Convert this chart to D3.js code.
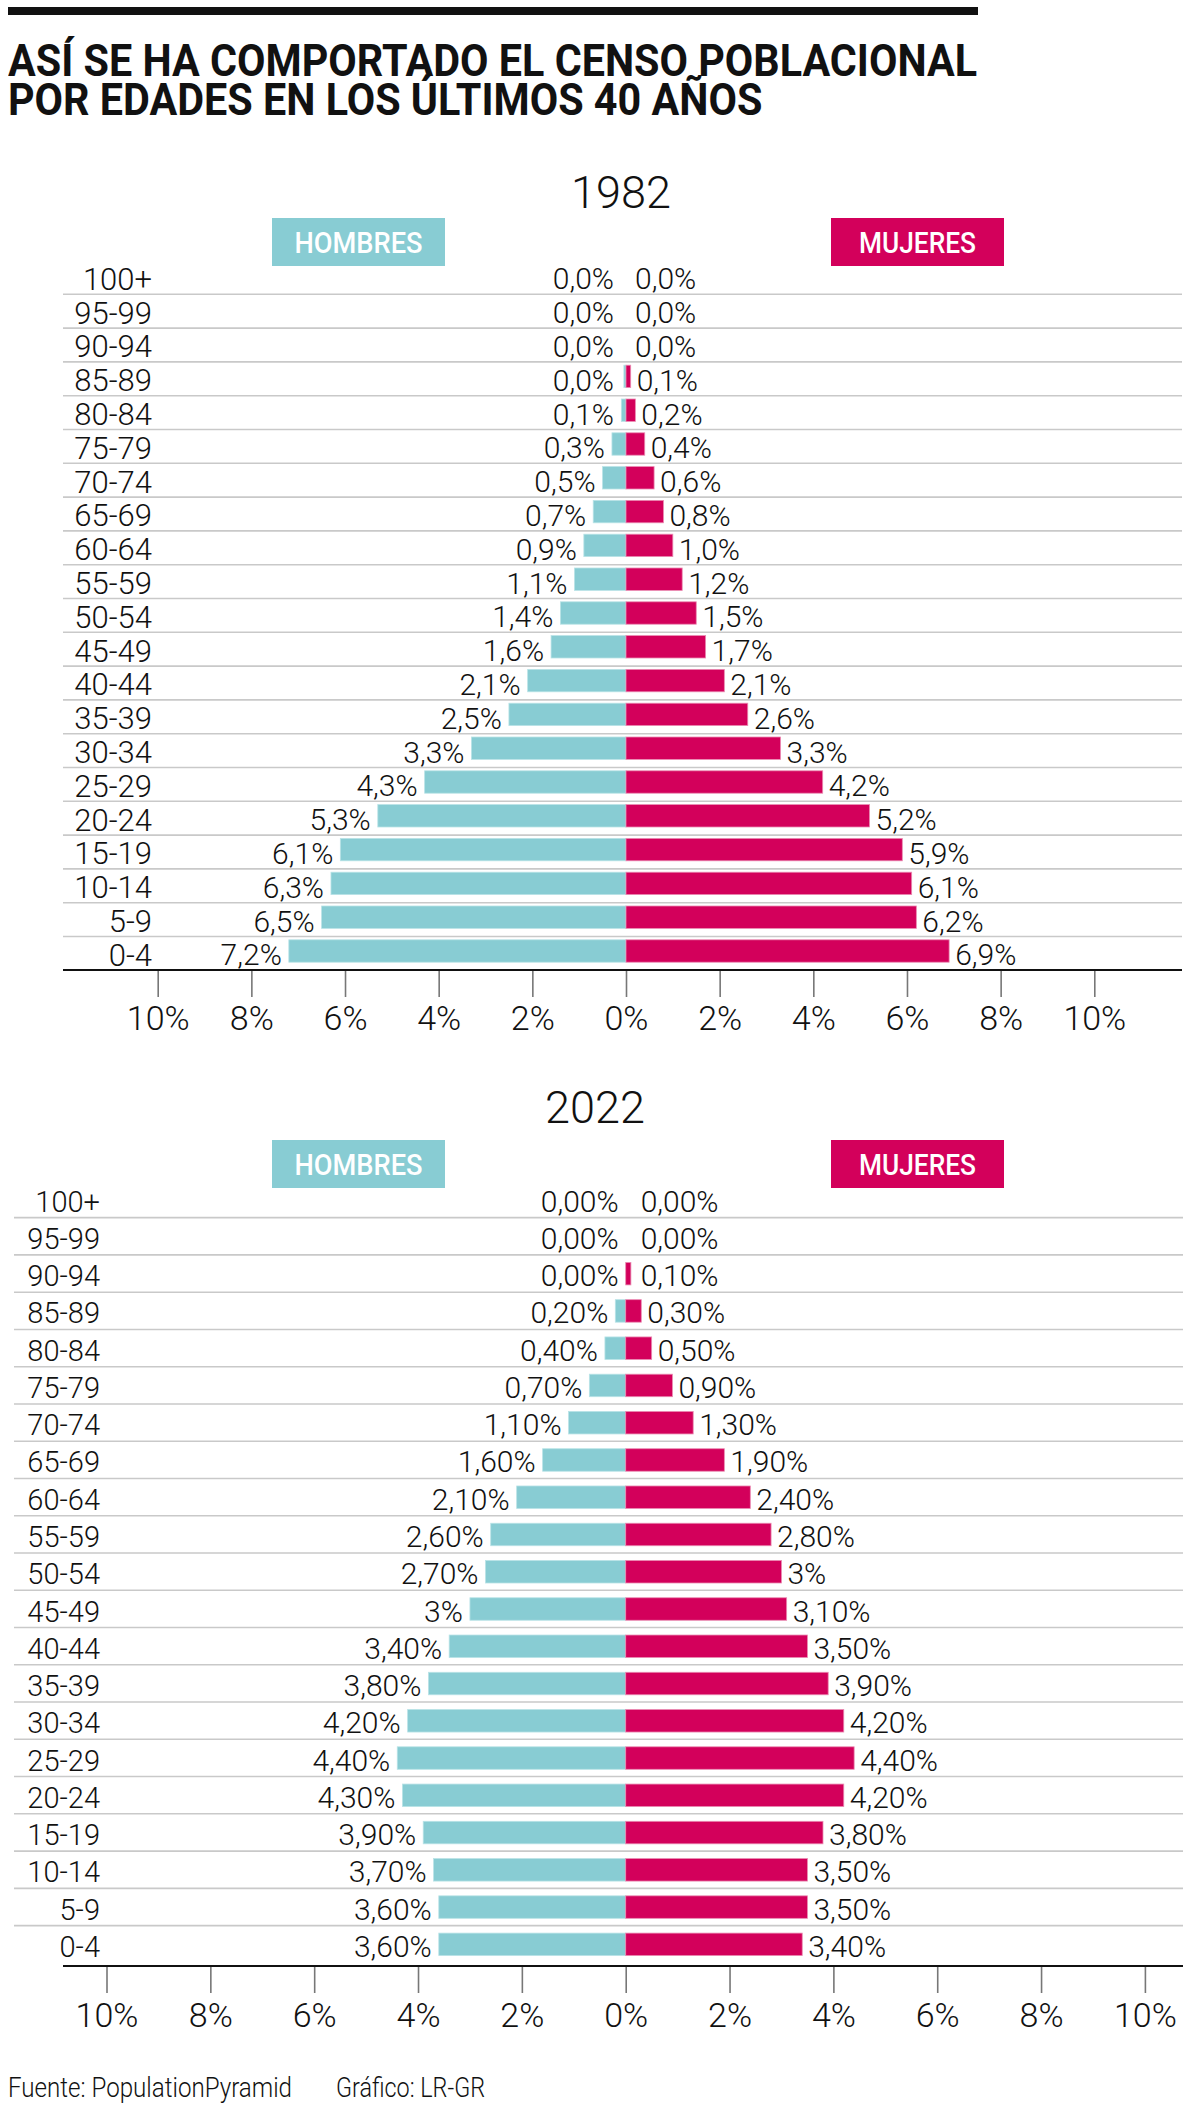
<!DOCTYPE html>
<html>
<head>
<meta charset="utf-8">
<script src="https://cdn.jsdelivr.net/npm/d3@7"></script>
<style>
  html, body { margin: 0; padding: 0; background: #fff; }
  body { position: relative; width: 1200px; height: 2107px; overflow: hidden; }
  svg { display: block; position: absolute; left: 0; top: 0; }
  text { font-family: Roboto, "Open Sans", sans-serif; }
  #title { position: absolute; left: 8px; top: 0; font-family: Roboto, sans-serif; font-weight: 700;
           font-size: 44px; line-height: 39px; color: #111; transform-origin: 0 0; white-space: normal; }
</style>
</head>
<body>
<svg id="chart" width="1200" height="2107"></svg>
<div id="title"></div>
<script>
// ---------- DATA ----------
const ageGroups = ["100+","95-99","90-94","85-89","80-84","75-79","70-74","65-69","60-64","55-59","50-54","45-49","40-44","35-39","30-34","25-29","20-24","15-19","10-14","5-9","0-4"];

const men1982   = [0.0,0.0,0.0,0.045,0.1,0.3,0.5,0.7,0.9,1.1,1.4,1.6,2.1,2.5,3.3,4.3,5.3,6.1,6.3,6.5,7.2];
const women1982 = [0.0,0.0,0.0,0.1,0.2,0.4,0.6,0.8,1.0,1.2,1.5,1.7,2.1,2.6,3.3,4.2,5.2,5.9,6.1,6.2,6.9];

const men2022   = [0,0,0,0.2,0.4,0.7,1.1,1.6,2.1,2.6,2.7,3,3.4,3.8,4.2,4.4,4.3,3.9,3.7,3.6,3.6];
const women2022 = [0,0,0.1,0.3,0.5,0.9,1.3,1.9,2.4,2.8,3,3.1,3.5,3.9,4.2,4.4,4.2,3.8,3.5,3.5,3.4];

const tickValues = [-10,-8,-6,-4,-2,0,2,4,6,8,10];
const legendLabels = ["HOMBRES","MUJERES"];
const titleLines = ["ASÍ SE HA COMPORTADO EL CENSO POBLACIONAL","POR EDADES EN LOS ÚLTIMOS 40 AÑOS"];
const footer = ["Fuente: PopulationPyramid","Gráfico: LR-GR"];

// ---------- STYLE ----------
const CYAN = "#88ccd3", MAGENTA = "#d3005b";
const CYAN_STROKE = "#b9e3e7", MAG_STROKE = "#ea8bb2";

const fmt1982 = v => d3.format(".1f")(v).replace(".", ",") + "%";
const fmt2022 = v => (Number.isInteger(v) && v > 0 ? String(v) : d3.format(".2f")(v).replace(".", ",")) + "%";

const svg = d3.select("#chart");

// top rule
svg.append("rect").attr("x", 8).attr("y", 7).attr("width", 970).attr("height", 8).attr("fill", "#111");

// title: a single wrapped text block, compressed horizontally to the condensed width
(function () {
  const ctx = document.createElement("canvas").getContext("2d");
  ctx.font = "700 44px Roboto, sans-serif";
  const w1 = ctx.measureText(titleLines[0]).width;
  const s = 969 / w1;
  d3.select("#title")
    .style("width", (w1 + 6) + "px")
    .style("top", "41.5px")
    .style("transform", `scale(${s},1)`)
    .text(titleLines.join(" "));
})();

function pyramid(cfg) {
  const g = svg.append("g");
  const x = d3.scaleLinear().domain([-10, 10]).range([cfg.x10l, cfg.x10r]);
  const y = d3.scaleBand().domain(ageGroups).range([cfg.top, cfg.top + cfg.band * ageGroups.length]);
  const rows = ageGroups.map((a, i) => ({age: a, m: cfg.men[i], w: cfg.women[i]}));

  // year
  g.append("text").attr("x", cfg.yearX).attr("y", cfg.yearY).attr("text-anchor", "middle")
    .attr("font-size", 45).attr("font-weight", 300).attr("fill", "#111").text(cfg.year);

  // legend boxes
  const boxes = [{x: 272, w: 173, c: CYAN, t: legendLabels[0], tl: 128},
                 {x: 831, w: 173, c: MAGENTA, t: legendLabels[1], tl: 117}];
  boxes.forEach(b => {
    g.append("rect").attr("x", b.x).attr("y", cfg.boxY).attr("width", b.w).attr("height", 48).attr("fill", b.c);
    g.append("text").attr("x", b.x + b.w / 2).attr("y", cfg.boxY + 35).attr("text-anchor", "middle")
      .attr("font-size", 30).attr("font-weight", 500).attr("fill", "#fff")
      .attr("textLength", b.tl).attr("lengthAdjust", "spacingAndGlyphs").text(b.t);
  });

  // grid lines (bottom of each band except last)
  g.selectAll("line.grid").data(ageGroups.slice(0, -1)).join("line")
    .attr("x1", cfg.gridX0).attr("x2", cfg.gridX1)
    .attr("y1", d => y(d) + y.bandwidth()).attr("y2", d => y(d) + y.bandwidth())
    .attr("stroke", "#c9c9c9").attr("stroke-width", 1.6);

  // row labels
  g.selectAll("text.age").data(rows).join("text")
    .attr("x", cfg.rowX).attr("y", d => y(d.age) + y.bandwidth() - cfg.rowBase)
    .attr("text-anchor", "end").attr("font-size", cfg.rowFont).attr("font-weight", 300).attr("fill", "#111")
    .text(d => d.age);

  // bars
  const x0 = x(0);
  g.selectAll("rect.m").data(rows).join("rect")
    .attr("x", d => x(-d.m)).attr("width", d => x0 - x(-d.m))
    .attr("y", d => y(d.age) + cfg.barOff).attr("height", cfg.barH)
    .attr("fill", CYAN).attr("stroke", d => d.m > 0 ? CYAN_STROKE : "none").attr("stroke-width", 0.8);
  g.selectAll("rect.w").data(rows).join("rect")
    .attr("x", x0).attr("width", d => x(d.w) - x0)
    .attr("y", d => y(d.age) + cfg.barOff).attr("height", cfg.barH)
    .attr("fill", MAGENTA).attr("stroke", d => d.w > 0 ? MAG_STROKE : "none").attr("stroke-width", 0.8);

  // value labels
  g.selectAll("text.vm").data(rows).join("text")
    .attr("x", d => Math.min(x0 - cfg.minGapM, x(-d.m) - 7))
    .attr("y", d => y(d.age) + y.bandwidth() - cfg.valBase)
    .attr("text-anchor", "end").attr("font-size", 30).attr("font-weight", 300).attr("fill", "#111")
    .text(d => cfg.fmt(d.m));
  g.selectAll("text.vw").data(rows).join("text")
    .attr("x", d => Math.max(x0 + cfg.minGapW, x(d.w) + 6))
    .attr("y", d => y(d.age) + y.bandwidth() - cfg.valBase)
    .attr("text-anchor", "start").attr("font-size", 30).attr("font-weight", 300).attr("fill", "#111")
    .text(d => cfg.fmt(d.w));

  // axis
  const axisY = cfg.axisY;
  const ax = g.append("g").attr("transform", `translate(0,${axisY})`)
    .call(d3.axisBottom(x).tickValues(tickValues).tickFormat(d => Math.abs(d) + "%").tickSize(27));
  ax.select(".domain").remove();
  ax.selectAll(".tick line").attr("stroke", "#777").attr("stroke-width", 1.6);
  ax.selectAll(".tick text").attr("y", cfg.tickLabelY).attr("dy", 0)
    .attr("font-size", 34).attr("font-weight", 300).attr("fill", "#111")
    .attr("font-family", "Roboto, sans-serif");
  g.append("line").attr("x1", 63).attr("x2", cfg.gridX1).attr("y1", axisY).attr("y2", axisY)
    .attr("stroke", "#111").attr("stroke-width", 2);
}

pyramid({
  year: "1982", yearX: 621, yearY: 208, boxY: 218,
  men: men1982, women: women1982, fmt: fmt1982,
  x10l: 157.7, x10r: 1094.3,
  top: 260.5, band: 33.8, barOff: 3.3, barH: 22.4,
  gridX0: 63, gridX1: 1182, rowX: 152, rowFont: 31, rowBase: 4.5, valBase: 5,
  minGapM: 12, minGapW: 9,
  axisY: 970, tickLabelY: 60
});

pyramid({
  year: "2022", yearX: 595, yearY: 1123, boxY: 1140,
  men: men2022, women: women2022, fmt: fmt2022,
  x10l: 106.5, x10r: 1144.9,
  top: 1180.4, band: 37.26, barOff: 7.5, barH: 22.5,
  gridX0: 14, gridX1: 1183, rowX: 100, rowFont: 29, rowBase: 6, valBase: 6,
  minGapM: 5, minGapW: 15,
  axisY: 1966, tickLabelY: 61
});

// footer
svg.append("text").attr("x", 8).attr("y", 2097).attr("font-size", 27).attr("font-weight", 300).attr("fill", "#111")
  .attr("textLength", 284).attr("lengthAdjust", "spacingAndGlyphs").text(footer[0]);
svg.append("text").attr("x", 336).attr("y", 2097).attr("font-size", 27).attr("font-weight", 300).attr("fill", "#111")
  .attr("textLength", 149).attr("lengthAdjust", "spacingAndGlyphs").text(footer[1]);
</script>
</body>
</html>
